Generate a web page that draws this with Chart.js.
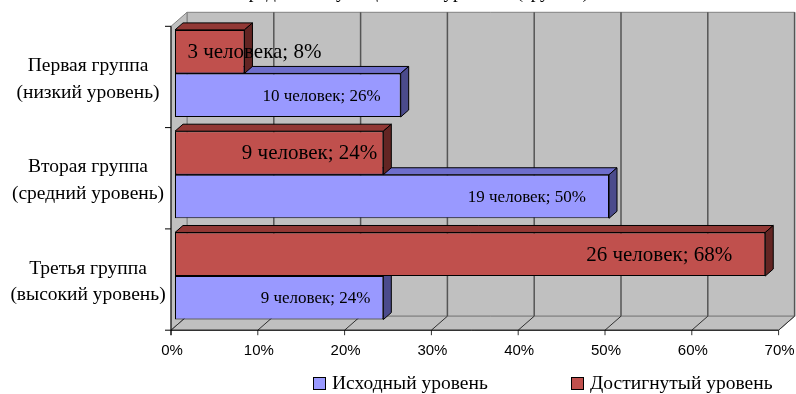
<!DOCTYPE html>
<html>
<head>
<meta charset="utf-8">
<script src="https://cdn.jsdelivr.net/npm/chart.js@4/dist/chart.umd.min.js"></script>
<style>
html,body{margin:0;padding:0;background:#fff;}
#wrap{width:796px;height:394px;position:relative;}
</style>
</head>
<body>
<div id="wrap"><canvas id="groupChart" width="796" height="394"></canvas></div>
<script>
// группы и результаты (проценты и количество человек)
let groupLabels=[["Первая группа","(низкий уровень)"],["Вторая группа","(средний уровень)"],["Третья группа","(высокий уровень)"]];
let reachedName="Достигнутый уровень";
let reachedPct=[8,24,68];
let reachedCount=["3 человека","9 человек","26 человек"];
let initialName="Исходный уровень";
let initialPct=[26,50,24];
let initialCount=["10 человек","19 человек","9 человек"];
let tickValues=[0,10,20,30,40,50,60,70];
let chartTitle="Распределение учащихся по уровням (группы)";

// сдвиг подписи от конца столбца (px)
let reachedShift=[77,-6,-33];
let initialShift=[-20,-23,-13];

const RED={front:"#C0504D",top:"#923835",side:"#632523"};
const BLUE={front:"#9999FF",top:"#6E6ECC",side:"#4B4B8C"};
const DEPTH={x:16,y:-14};   // полная глубина "3D" коробки
const SERIF="'Liberation Serif','Times New Roman',serif";
const SANS="'Liberation Sans',Arial,sans-serif";

function poly(ctx,pts,fill,stroke){
	ctx.beginPath();
	ctx.moveTo(pts[0][0],pts[0][1]);
	for(let i=1;i<pts.length;i++) ctx.lineTo(pts[i][0],pts[i][1]);
	ctx.closePath();
	if(fill){ctx.fillStyle=fill;ctx.fill();}
	if(stroke){ctx.strokeStyle=stroke;ctx.lineWidth=1;ctx.stroke();}
}

// стенки, пол, оси и боковые грани столбцов
const box3d={
	id:"box3d",
	beforeDatasetsDraw(chart){
		const ctx=chart.ctx, a=chart.chartArea, xs=chart.scales.x;
		const fx=-DEPTH.x*0.25, fy=-DEPTH.y*0.25;   // передняя плоскость
		const bx=DEPTH.x*0.75, by=DEPTH.y*0.75;     // задняя стенка
		const x0=xs.getPixelForValue(tickValues[0]);
		const x1=xs.getPixelForValue(tickValues[tickValues.length-1]);
		ctx.save();
		// задняя стенка
		poly(ctx,[[x0+bx,a.top+by],[x1+bx,a.top+by],[x1+bx,a.bottom+by],[x0+bx,a.bottom+by]],"#C0C0C0","#808080");
		// левая стенка
		poly(ctx,[[x0+fx,a.top+fy],[x0+bx,a.top+by],[x0+bx,a.bottom+by],[x0+fx,a.bottom+fy]],"#C0C0C0","#808080");
		// пол
		poly(ctx,[[x0+fx,a.bottom+fy],[x1+fx,a.bottom+fy],[x1+bx,a.bottom+by],[x0+bx,a.bottom+by]],"#C0C0C0","#808080");
		// линии сетки на стенке и на полу
		tickValues.forEach(v=>{
			const px=xs.getPixelForValue(v);
			ctx.strokeStyle="#555";ctx.lineWidth=1.5;
			if(v>tickValues[0]){
				ctx.beginPath();ctx.moveTo(px+bx,a.top+by);ctx.lineTo(px+bx,a.bottom+by);ctx.stroke();
			}
			ctx.strokeStyle="#303030";ctx.lineWidth=1;
			ctx.beginPath();ctx.moveTo(px+fx,a.bottom+fy);ctx.lineTo(px+bx,a.bottom+by);ctx.stroke();
			ctx.beginPath();ctx.moveTo(px+fx,a.bottom+fy);ctx.lineTo(px+fx,a.bottom+fy+5);ctx.stroke();
		});
		// передние оси
		ctx.strokeStyle="#000";ctx.lineWidth=1;
		ctx.beginPath();
		ctx.moveTo(x0+fx,a.top+fy);ctx.lineTo(x0+fx,a.bottom+fy+5);
		ctx.moveTo(x0+fx-6,a.bottom+fy);ctx.lineTo(x1+fx,a.bottom+fy);
		ctx.stroke();
		const n=groupLabels.length, step=(a.bottom-a.top)/n;
		for(let i=0;i<n;i++){
			const y=a.top+step*i+fy;
			ctx.beginPath();ctx.moveTo(x0+fx-6,y);ctx.lineTo(x0+fx,y);ctx.stroke();
		}
		// верхние и боковые грани: сначала нижний ряд, потом верхний
		const faces=[[1,BLUE],[0,RED]];
		const d={x:DEPTH.x*0.5,y:DEPTH.y*0.5};
		faces.forEach(([di,col])=>{
			chart.getDatasetMeta(di).data.forEach(bar=>{
				const p=bar.getProps(["x","y","base","height"],true);
				const t=p.y-p.height/2, b=p.y+p.height/2;
				poly(ctx,[[p.base,t],[p.x,t],[p.x+d.x,t+d.y],[p.base+d.x,t+d.y]],col.top,"#000");
				poly(ctx,[[p.x,t],[p.x+d.x,t+d.y],[p.x+d.x,b+d.y],[p.x,b]],col.side,"#000");
			});
		});
		ctx.restore();
	},
	afterDraw(chart){
		const ctx=chart.ctx, a=chart.chartArea, xs=chart.scales.x, ys=chart.scales.y;
		const fx=-DEPTH.x*0.25;
		ctx.save();
		// подписи данных
		const sets=[[0,reachedPct,reachedCount,reachedShift,21],[1,initialPct,initialCount,initialShift,17]];
		sets.forEach(([di,pct,cnt,shift,size])=>{
			chart.getDatasetMeta(di).data.forEach((bar,i)=>{
				const p=bar.getProps(["x","y"],true);
				ctx.font=size+"px "+SERIF;
				ctx.fillStyle="#000";
				ctx.textAlign="right";ctx.textBaseline="middle";
				ctx.fillText(cnt[i]+"; "+pct[i]+"%",p.x+shift[i],p.y+1);
			});
		});
		// подписи групп
		ctx.font="19.5px "+SERIF;ctx.textAlign="center";ctx.textBaseline="middle";ctx.fillStyle="#000";
		groupLabels.forEach((lines,i)=>{
			const cy=ys.getPixelForValue(i)+5.5;
			ctx.fillText(lines[0],88,cy-13);
			ctx.fillText(lines[1],88,cy+13.5);
		});
		// проценты по оси X
		ctx.font="15px "+SANS;
		tickValues.forEach(v=>{
			ctx.fillText(v+"%",xs.getPixelForValue(v)+fx+1,351);
		});
		// легенда
		const legend=[[initialName,BLUE.front,313],[reachedName,RED.front,571]];
		ctx.font="19.5px "+SERIF;ctx.textAlign="left";
		legend.forEach(([txt,col,lx])=>{
			ctx.fillStyle=col;ctx.fillRect(lx+0.5,377.5,12,12);
			ctx.strokeStyle="#000";ctx.lineWidth=1;ctx.strokeRect(lx+0.5,377.5,12,12);
			ctx.fillStyle="#000";
			ctx.fillText(txt,lx+19,384);
		});
		// заголовок (уходит за верхний край)
		ctx.font="19px "+SERIF;ctx.textAlign="center";ctx.textBaseline="alphabetic";
		ctx.fillText(chartTitle,400,-2.5);
		ctx.restore();
	}
};

new Chart(document.getElementById("groupChart"),{
	type:"bar",
	data:{
		labels:groupLabels.map(l=>l.join(" ")),
		datasets:[
			{label:reachedName,data:reachedPct,backgroundColor:RED.front,borderColor:"#000",borderWidth:1,borderSkipped:false},
			{label:initialName,data:initialPct,backgroundColor:BLUE.front,borderColor:"#000",borderWidth:1,borderSkipped:false}
		]
	},
	options:{
		indexAxis:"y",
		responsive:false,
		animation:false,
		devicePixelRatio:1,
		layout:{padding:{left:175,right:13.4,top:22.8,bottom:67.3}},
		categoryPercentage:0.86,
		barPercentage:1,
		scales:{
			x:{display:false,min:0,max:70},
			y:{display:false}
		},
		plugins:{legend:{display:false},tooltip:{enabled:false},title:{display:false}}
	},
	plugins:[box3d]
});
</script>
</body>
</html>
